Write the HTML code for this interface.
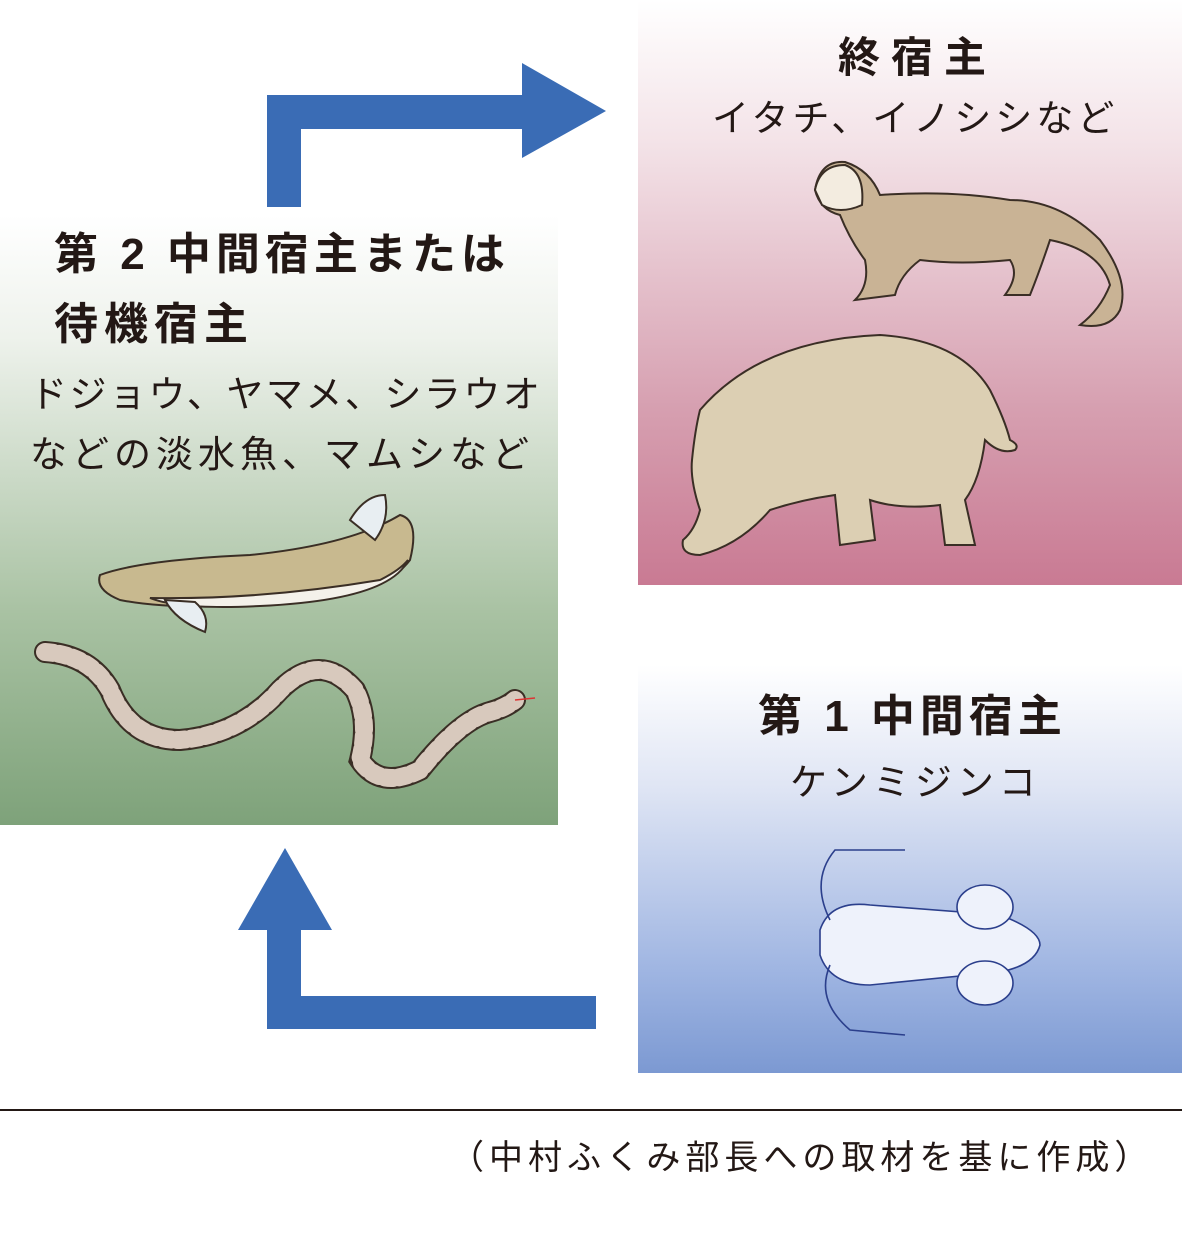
<!DOCTYPE html>
<html><head><meta charset="utf-8"><style>
html,body{margin:0;padding:0;background:#fff;}
body{width:1182px;height:1253px;position:relative;overflow:hidden;font-family:"Liberation Sans","Noto Sans CJK JP",sans-serif;color:#231815;}
.box{position:absolute;}
.t{position:absolute;white-space:nowrap;}
</style></head><body>
<div class="box" style="left:0;top:215px;width:558px;height:610px;background:linear-gradient(#ffffff 0%,#eef2ec 20%,#a9c2a3 65%,#7ea27a 100%);"></div>
<div class="box" style="left:638px;top:0;width:544px;height:585px;background:linear-gradient(#ffffff 0%,#f3e2e7 25%,#d69fb0 70%,#c97a93 100%);"></div>
<div class="box" style="left:638px;top:665px;width:544px;height:408px;background:linear-gradient(#ffffff 0%,#dfe5f4 30%,#9fb5e2 75%,#7c99d2 100%);"></div>

<svg width="1182" height="1253" style="position:absolute;left:0;top:0">
<g fill="#3a6cb5">
<rect x="267" y="95" width="34" height="112"/>
<rect x="267" y="95" width="258" height="34"/>
<polygon points="522,63 606,111 522,158"/>
<rect x="267" y="996" width="329" height="33"/>
<rect x="267" y="928" width="34" height="101"/>
<polygon points="285,848 332,930 238,930"/>
</g>
<line x1="0" y1="1110" x2="1182" y2="1110" stroke="#231815" stroke-width="2"/>
<g stroke="#3a2e25" stroke-width="2" fill="#c9b395">
<path d="M815,190 Q820,160 845,162 Q870,170 880,195 Q950,190 1010,200 Q1060,200 1100,240 Q1130,280 1120,310 Q1110,330 1080,325 Q1100,310 1110,285 Q1100,250 1050,240 Q1040,270 1030,295 L1005,295 Q1020,275 1010,260 Q960,265 920,260 Q900,275 895,295 L855,300 Q870,285 865,260 Q850,240 840,215 Q820,210 815,190Z"/>
<path d="M815,190 Q820,165 845,165 Q865,172 862,205 Q840,215 822,205Z" fill="#f3ece0"/>
</g>
<g stroke="#3a2e25" stroke-width="2" fill="#dccfb3">
<path d="M700,410 Q760,340 880,335 Q960,340 990,390 Q1005,420 1010,440 Q1020,445 1015,450 Q1000,455 985,440 Q980,480 965,500 L975,545 L945,545 L940,505 Q900,510 870,500 L875,540 L840,545 L835,495 Q800,500 770,510 Q740,545 700,555 Q680,555 683,540 Q695,530 700,510 Q690,480 692,460 Q695,430 700,410Z"/>
</g>
<g stroke="#3a2e25" stroke-width="2">
<path d="M100,575 Q140,560 250,555 Q350,545 400,515 Q420,520 410,560 Q380,600 260,605 Q170,610 120,600 Q95,590 100,575Z" fill="#c8b98f"/>
<path d="M150,598 Q260,600 380,580 Q400,570 408,560 Q390,600 260,606 Q180,610 150,598Z" fill="#f4f1ea"/>
<path d="M350,520 Q365,495 385,495 Q390,520 375,540Z" fill="#e8eef2"/>
<path d="M165,600 Q175,620 205,632 Q210,615 195,602Z" fill="#e8eef2"/>
</g>
<path d="M45,652 Q90,655 110,690 Q130,740 180,740 Q240,735 280,690 Q320,650 355,690 Q370,720 360,760 Q380,790 420,770 Q460,720 490,712 Q505,708 515,700" fill="none" stroke="#3a2e25" stroke-width="22" stroke-linecap="round"/>
<path d="M45,652 Q90,655 110,690 Q130,740 180,740 Q240,735 280,690 Q320,650 355,690 Q370,720 360,760 Q380,790 420,770 Q460,720 490,712 Q505,708 515,700" fill="none" stroke="#d8c9bd" stroke-width="18" stroke-linecap="round" stroke-dasharray="8 6"/>
<path d="M515,700 L535,698" stroke="#d33" stroke-width="1.5"/>
<g stroke="#2b3f8c" stroke-width="1.6" fill="#eef2fb">
<path d="M820,930 Q830,900 870,905 L1000,915 Q1040,930 1040,945 Q1035,965 1000,972 L870,985 Q830,985 820,955Z"/>
<ellipse cx="985" cy="907" rx="28" ry="22"/>
<ellipse cx="985" cy="983" rx="28" ry="22"/>
<path d="M830,920 Q810,880 835,850 L905,850 M830,965 Q815,1000 850,1030 L905,1035" fill="none"/>
</g>
</svg>

<div class="t" style="left:838px;top:24px;font-size:42px;font-weight:bold;letter-spacing:11px;">終宿主</div>
<div class="t" style="left:712px;top:88px;font-size:37px;letter-spacing:4px;">イタチ、イノシシなど</div>
<div class="t" style="left:54px;top:218px;font-size:44px;font-weight:bold;letter-spacing:5px;">第 2 中間宿主または</div>
<div class="t" style="left:54px;top:288px;font-size:44px;font-weight:bold;letter-spacing:6px;">待機宿主</div>
<div class="t" style="left:30px;top:364px;font-size:37px;letter-spacing:2.5px;">ドジョウ、ヤマメ、シラウオ</div>
<div class="t" style="left:30px;top:424px;font-size:37px;letter-spacing:5px;">などの淡水魚、マムシなど</div>
<div class="t" style="left:758px;top:680px;font-size:44px;font-weight:bold;letter-spacing:5px;">第 1 中間宿主</div>
<div class="t" style="left:790px;top:752px;font-size:37px;letter-spacing:5px;">ケンミジンコ</div>
<div class="t" style="left:450px;top:1130px;font-size:34px;letter-spacing:5px;">（中村ふくみ部長への取材を基に作成）</div>
</body></html>
